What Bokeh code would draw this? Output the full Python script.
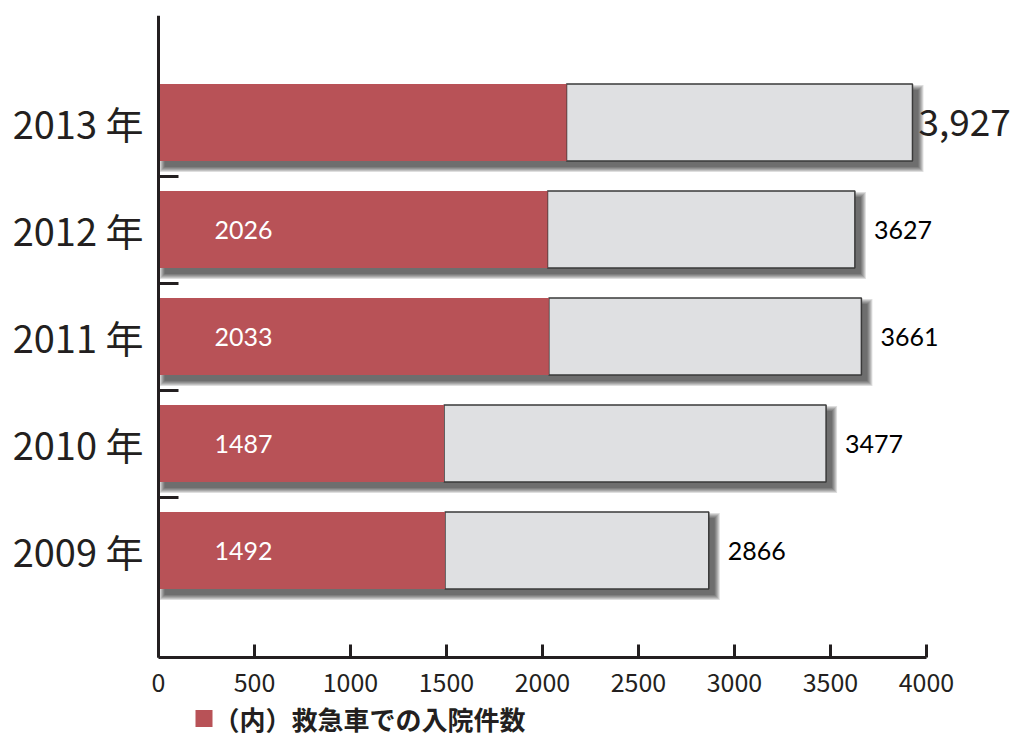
from bokeh.plotting import figure
from bokeh.models import FixedTicker, ColumnDataSource, Range1d
from bokeh.core.properties import value
from bokeh.embed import file_html
from bokeh.resources import INLINE

# ---- data ----
years = ["2009 年", "2010 年", "2011 年", "2012 年", "2013 年"]
totals = [2866, 3477, 3661, 3627, 3927]
ambulance = [1492, 1487, 2033, 2026, 2125]
inner_labels = ["1492", "1487", "2033", "2026", ""]
total_labels = ["2866", "3477", "3661", "3627", "3,927"]
x_ticks = [0, 500, 1000, 1500, 2000, 2500, 3000, 3500, 4000]
legend_label = "（内）救急車での入院件数"

# ---- geometry (pixels) ----
W, H = 1012, 738
AXIS_X_PX, TOP = 158, 15   # y axis line position, top of the plot area
AXIS_MAX = 4000
AXIS_LEN_PX = 768          # length of the x axis line
PX_PER_ROW = 107           # vertical pixels per category step
AXIS_Y = -1                # data y of the x axis line
Y_TOP = 5                  # data y at the top of the y axis
px_x = AXIS_LEN_PX / AXIS_MAX
dx = 1 / px_x
dy = 1 / PX_PER_ROW
x_start = -AXIS_X_PX * dx
x_end = (W - AXIS_X_PX) * dx
y_start = Y_TOP - (H - TOP) * dy
BAR_H = 0.72

RED = "#b85257"
GRAY = "#dfe0e2"
DARK = "#231f20"

ypos = list(range(len(years)))

p = figure(width=W, height=H, x_range=Range1d(x_start, x_end), y_range=Range1d(y_start, Y_TOP),
           output_backend="svg", toolbar_location=None,
           min_border_left=0, min_border_right=0, min_border_top=TOP,
           min_border_bottom=0)
p.outline_line_color = None
p.xgrid.visible = False
p.ygrid.visible = False

# ---- shadows ----
SX, SY, R = 6, 6, 5
for s in range(R + 1):
    p.quad(left=[(SX - s) * dx] * len(ypos),
           right=[t + (SX + s) * dx for t in totals],
           top=[y + BAR_H / 2 - (SY - s) * dy for y in ypos],
           bottom=[y - BAR_H / 2 - (SY + s) * dy for y in ypos],
           fill_color="black", fill_alpha=0.13, line_color=None)

# ---- bars ----
p.hbar(y=ypos, left=ambulance, right=totals, height=BAR_H,
       fill_color=GRAY, line_color="#3a3a3a", line_width=1.5)
p.hbar(y=ypos, left=0, right=ambulance, height=BAR_H,
       fill_color=RED, line_color=None)

# ---- value labels ----
inner_src = ColumnDataSource(dict(x=[0] * len(ypos), y=ypos, t=inner_labels))
p.text(x="x", y="y", text="t", source=inner_src, x_offset=56,
       text_font=value("Lato"), text_font_size="25px", text_color="white",
       text_align="left", text_baseline="middle")

n = len(ypos) - 1
tot_src = ColumnDataSource(dict(x=totals[:n], y=ypos[:n], t=total_labels[:n]))
p.text(x="x", y="y", text="t", source=tot_src, x_offset=19,
       text_font=value("Lato"), text_font_size="25px", text_color="black",
       text_align="left", text_baseline="middle")
big_src = ColumnDataSource(dict(x=totals[n:], y=ypos[n:], t=total_labels[n:]))
p.text(x="x", y="y", text="t", source=big_src, x_offset=6,
       text_font=value("Noto Sans CJK JP"), text_font_size="37px", text_color=DARK,
       text_align="left", text_baseline="middle")

# ---- axes ----
xa = p.xaxis[0]
xa.fixed_location = AXIS_Y
xa.ticker = FixedTicker(ticks=x_ticks)
xa.bounds = (0, AXIS_MAX)
xa.axis_line_width = 3
xa.axis_line_color = DARK
xa.major_tick_in = 13
xa.major_tick_out = 0
xa.major_tick_line_width = 3
xa.major_tick_line_color = DARK
xa.minor_tick_line_color = None
xa.major_label_text_font = "Noto Sans CJK JP"
xa.major_label_text_font_size = "25px"
xa.major_label_text_color = DARK
xa.major_label_standoff = 15

ya = p.yaxis[0]
ya.fixed_location = 0
ya.bounds = (AXIS_Y, Y_TOP)
ya.ticker = FixedTicker(ticks=ypos, minor_ticks=[y + 0.5 for y in ypos[:-1]])
ya.major_label_overrides = {y: years[y] for y in ypos}
ya.axis_line_width = 3
ya.axis_line_color = DARK
ya.major_tick_in = 0
ya.major_tick_out = 0
ya.major_tick_line_color = None
ya.minor_tick_in = 20
ya.minor_tick_out = 0
ya.minor_tick_line_width = 3
ya.minor_tick_line_color = DARK
ya.major_label_text_font = "Noto Sans CJK JP"
ya.major_label_text_font_size = "38px"
ya.major_label_text_color = DARK
ya.major_label_standoff = 15

# ---- legend (drawn inside the frame, below the x axis) ----
LEG_X_PX, LEG_SQ_PX, LEG_BELOW_AXIS_PX = 37, 17, 61
leg_cy = AXIS_Y - LEG_BELOW_AXIS_PX * dy
p.quad(left=[LEG_X_PX * dx], right=[(LEG_X_PX + LEG_SQ_PX) * dx],
       top=[leg_cy + LEG_SQ_PX / 2 * dy], bottom=[leg_cy - LEG_SQ_PX / 2 * dy],
       fill_color=RED, line_color=None)
p.text(x=[(LEG_X_PX + LEG_SQ_PX + 1) * dx], y=[leg_cy], text=[legend_label],
       text_font=value("Noto Sans CJK JP"), text_font_size="26px",
       text_font_style="bold", text_color=DARK,
       text_align="left", text_baseline="middle")

open("out.html", "w").write(file_html(p, INLINE))
